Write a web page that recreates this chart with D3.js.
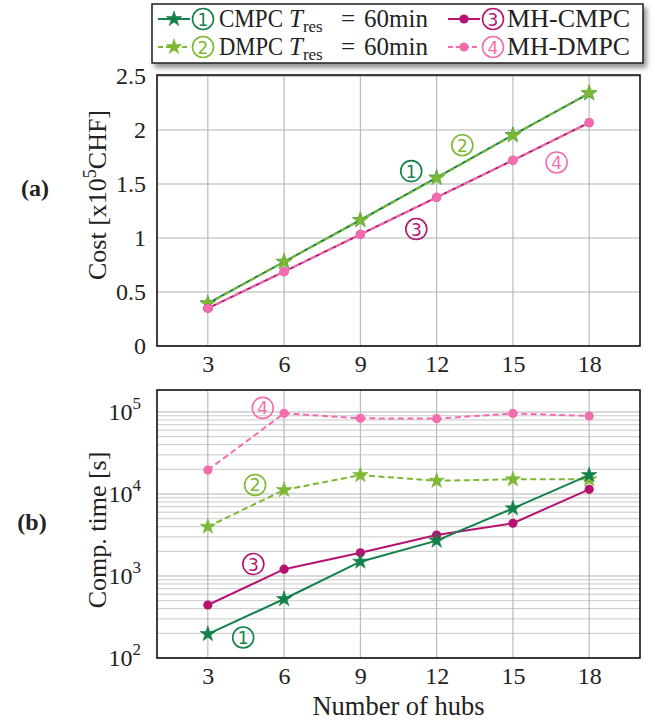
<!DOCTYPE html>
<html>
<head>
<meta charset="utf-8">
<script src="https://cdn.jsdelivr.net/npm/d3@7"></script>
<style>
  html, body { margin: 0; padding: 0; background: #fff; }
  svg { display: block; }
  text { font-family: "Liberation Serif", "Times New Roman", serif; fill: #222; }
</style>
</head>
<body>
<svg id="chart" width="655" height="722"></svg>
<script>
// ---- data ----
const hubs = [3, 6, 9, 12, 15, 18];

// (a) cost in 1e5 CHF
const costCMPC   = [0.395, 0.78, 1.167, 1.56, 1.954, 2.34];
const costDMPC   = [0.39, 0.78, 1.165, 1.555, 1.95, 2.345];
const costMHCMPC = [0.349, 0.688, 1.034, 1.377, 1.72, 2.068];
const costMHDMPC = [0.347, 0.688, 1.032, 1.376, 1.72, 2.07];

// (b) computation time in seconds
const timeCMPC   = [196, 524, 1495, 2700, 6690, 17000];
const timeDMPC   = [3990, 11200, 17000, 14500, 15100, 15100];
const timeMHCMPC = [443, 1210, 1920, 3160, 4400, 11400];
const timeMHDMPC = [19600, 96400, 83800, 83000, 96000, 89400];

const xTicks = [3, 6, 9, 12, 15, 18];
const costTicks = [0, 0.5, 1, 1.5, 2, 2.5];
const costTickLabels = ["0", "0.5", "1", "1.5", "2", "2.5"];
const timeDecades = [2, 3, 4, 5];

const seriesNames = ["CMPC", "DMPC", "MH-CMPC", "MH-DMPC"];
const seriesNums = ["1", "2", "3", "4"];

// ---- styles ----
const colors = ["#14804a", "#7cb833", "#b5136f", "#f36dae"];
const dashed = [false, true, false, true];
const marker = ["star", "star", "dot", "dot"];
const gridMajor = "#b4b4b4";
const gridMinor = "#c9c9c9";
const tickFont = "24px";

const svg = d3.select("#chart");

const defs = svg.append("defs");
const f = defs.append("filter").attr("id", "shadow")
  .attr("x", "-10%").attr("y", "-30%").attr("width", "130%").attr("height", "180%");
f.append("feDropShadow").attr("dx", 3).attr("dy", 4).attr("stdDeviation", 2.5)
  .attr("flood-color", "#444").attr("flood-opacity", 0.6);

const left = 157, right = 640;
const x = d3.scaleLinear().domain([1, 20]).range([left, right]);

const yA = d3.scaleLinear().domain([0, 2.51]).range([346, 75]);
const yB = d3.scaleLog().domain([100, Math.pow(10, 5 + 22 / 82)]).range([658, 390]);

const starPath = d3.symbol().type(d3.symbolStar).size(75)();

function drawMarker(g, type, color, cx, cy) {
  if (type === "star") {
    g.append("path").attr("d", starPath)
      .attr("transform", `translate(${cx},${cy})`)
      .attr("fill", color).attr("stroke", color).attr("stroke-width", 0.6);
  } else {
    g.append("circle").attr("cx", cx).attr("cy", cy).attr("r", 4.6).attr("fill", color);
  }
}

function circledNum(g, cx, cy, num, color) {
  g.append("circle").attr("cx", cx).attr("cy", cy).attr("r", 10.5)
    .attr("fill", "none").attr("stroke", color).attr("stroke-width", 1.6);
  g.append("text").attr("x", cx).attr("y", cy + 6.5).attr("text-anchor", "middle")
    .style("font-family", "'DejaVu Sans', sans-serif").style("font-size", "17px")
    .style("fill", color).text(num);
}

function drawSeries(g, yScale, vals, i) {
  const line = d3.line().x((d, k) => x(hubs[k])).y(d => yScale(d));
  g.append("path").datum(vals).attr("d", line)
    .attr("fill", "none").attr("stroke", colors[i]).attr("stroke-width", 2)
    .attr("stroke-dasharray", dashed[i] ? "6,3.5" : null);
  vals.forEach((v, k) => drawMarker(g, marker[i], colors[i], x(hubs[k]), yScale(v)));
}

function styleTicks(sel) {
  sel.call(s => s.select(".domain").remove())
    .selectAll("text").style("font-size", tickFont)
    .style("font-family", "'Liberation Serif', serif").attr("fill", "#222");
}

// ---------- panel (a) ----------
const gA = svg.append("g");
gA.selectAll(".vg").data(xTicks).join("line")
  .attr("x1", d => x(d)).attr("x2", d => x(d)).attr("y1", yA.range()[0]).attr("y2", yA.range()[1])
  .attr("stroke", gridMajor).attr("stroke-width", 1.1);
gA.selectAll(".hg").data(costTicks).join("line")
  .attr("x1", left).attr("x2", right).attr("y1", d => yA(d)).attr("y2", d => yA(d))
  .attr("stroke", gridMajor).attr("stroke-width", 1.1);

gA.append("g").attr("transform", `translate(0,${yA.range()[0]})`)
  .call(d3.axisBottom(x).tickValues(xTicks).tickSize(0).tickPadding(9))
  .call(styleTicks);
gA.append("g").attr("transform", `translate(${left},0)`)
  .call(d3.axisLeft(yA).tickValues(costTicks).tickFormat((d, i) => costTickLabels[i]).tickSize(0).tickPadding(11))
  .call(styleTicks);

drawSeries(gA, yA, costCMPC, 0);
drawSeries(gA, yA, costDMPC, 1);
drawSeries(gA, yA, costMHCMPC, 2);
drawSeries(gA, yA, costMHDMPC, 3);

gA.append("rect").attr("x", left).attr("y", yA.range()[1]).attr("width", right - left)
  .attr("height", yA.range()[0] - yA.range()[1]).attr("fill", "none")
  .attr("stroke", "#111").attr("stroke-width", 1.6);

circledNum(gA, x(11), yA(1.62), "1", colors[0]);
circledNum(gA, x(13.01), yA(1.86), "2", colors[1]);
circledNum(gA, x(11.2), yA(1.083), "3", colors[2]);
circledNum(gA, x(16.72), yA(1.70), "4", colors[3]);

// ---------- panel (b) ----------
const gB = svg.append("g");
const minorVals = [];
timeDecades.forEach(k => {
  if (k < 5) for (let m = 2; m <= 9; m++) minorVals.push(m * Math.pow(10, k));
});
gB.selectAll(".mg").data(minorVals).join("line")
  .attr("x1", left).attr("x2", right).attr("y1", d => yB(d)).attr("y2", d => yB(d))
  .attr("stroke", gridMinor).attr("stroke-width", 1);
gB.selectAll(".hg").data(timeDecades.map(k => Math.pow(10, k))).join("line")
  .attr("x1", left).attr("x2", right).attr("y1", d => yB(d)).attr("y2", d => yB(d))
  .attr("stroke", gridMajor).attr("stroke-width", 1.1);
gB.selectAll(".vg").data(xTicks).join("line")
  .attr("x1", d => x(d)).attr("x2", d => x(d)).attr("y1", yB.range()[0]).attr("y2", yB.range()[1])
  .attr("stroke", gridMajor).attr("stroke-width", 1.1);

gB.append("g").attr("transform", `translate(0,${yB.range()[0]})`)
  .call(d3.axisBottom(x).tickValues(xTicks).tickSize(0).tickPadding(9))
  .call(styleTicks);

// log tick labels 10^k
const ylab = gB.selectAll(".yl").data(timeDecades).join("text")
  .attr("x", left - 16).attr("y", d => yB(Math.pow(10, d)) + 8)
  .attr("text-anchor", "end").style("font-size", tickFont);
ylab.append("tspan").text("10");
ylab.append("tspan").attr("dy", -11).style("font-size", "17px").text(d => d);

drawSeries(gB, yB, timeMHDMPC, 3);
drawSeries(gB, yB, timeDMPC, 1);
drawSeries(gB, yB, timeMHCMPC, 2);
drawSeries(gB, yB, timeCMPC, 0);

gB.append("rect").attr("x", left).attr("y", yB.range()[1]).attr("width", right - left)
  .attr("height", yB.range()[0] - yB.range()[1]).attr("fill", "none")
  .attr("stroke", "#111").attr("stroke-width", 1.6);

circledNum(gB, x(5.16), yB(Math.pow(10, 5.05)), "4", colors[3]);
circledNum(gB, x(4.86), yB(Math.pow(10, 4.11)), "2", colors[1]);
circledNum(gB, x(4.79), yB(Math.pow(10, 3.146)), "3", colors[2]);
circledNum(gB, x(4.39), yB(Math.pow(10, 2.25)), "1", colors[0]);

// ---------- titles ----------
svg.append("text").attr("x", (left + right) / 2).attr("y", 715).attr("text-anchor", "middle")
  .style("font-size", "26.5px").text("Number of hubs");

const costLab = svg.append("text")
  .attr("transform", "translate(106,195) rotate(-90)").attr("text-anchor", "middle")
  .style("font-size", "26px");
costLab.append("tspan").text("Cost [x10");
costLab.append("tspan").attr("dy", -10).style("font-size", "18px").text("5");
costLab.append("tspan").attr("dy", 10).text("CHF]");

svg.append("text").attr("transform", "translate(106,530) rotate(-90)").attr("text-anchor", "middle")
  .style("font-size", "26px").text("Comp. time [s]");

svg.append("text").attr("x", 35).attr("y", 196).attr("text-anchor", "middle")
  .style("font-size", "24px").style("font-weight", "bold").text("(a)");
svg.append("text").attr("x", 32).attr("y", 530).attr("text-anchor", "middle")
  .style("font-size", "24px").style("font-weight", "bold").text("(b)");

// ---------- legend ----------
const lg = svg.append("g");
lg.append("rect").attr("x", 152).attr("y", 4).attr("width", 491).attr("height", 59)
  .attr("fill", "#fff").attr("stroke", "#111").attr("stroke-width", 1.4)
  .attr("filter", "url(#shadow)");
const rowY = [19, 47];
const entries = [
  { i: 0, lx: 158, row: 0 }, { i: 1, lx: 158, row: 1 },
  { i: 2, lx: 448, row: 0 }, { i: 3, lx: 448, row: 1 }
];
entries.forEach(e => {
  const y = rowY[e.row];
  lg.append("line").attr("x1", e.lx).attr("x2", e.lx + 32).attr("y1", y).attr("y2", y)
    .attr("stroke", colors[e.i]).attr("stroke-width", 2)
    .attr("stroke-dasharray", dashed[e.i] ? "5,3" : null);
  drawMarker(lg, marker[e.i], colors[e.i], e.lx + 16, y);
  circledNum(lg, e.lx + 45, y, seriesNums[e.i], colors[e.i]);
  const base = y + 8;
  if (e.i < 2) {
    lg.append("text").attr("x", 219).attr("y", base).style("font-size", "25px")
      .attr("textLength", 64).attr("lengthAdjust", "spacingAndGlyphs").text(seriesNames[e.i]);
    const t = lg.append("text").attr("x", 289).attr("y", base).style("font-size", "25px");
    t.append("tspan").style("font-style", "italic").text("T");
    t.append("tspan").attr("dy", 5).style("font-size", "17px").text("res");
    lg.append("text").attr("x", 341).attr("y", base).style("font-size", "25px").text("=");
    lg.append("text").attr("x", 364).attr("y", base).style("font-size", "25px").text("60min");
  } else {
    lg.append("text").attr("x", 507).attr("y", base).style("font-size", "25px")
      .attr("textLength", 123).attr("lengthAdjust", "spacingAndGlyphs").text(seriesNames[e.i]);
  }
});
</script>
</body>
</html>
